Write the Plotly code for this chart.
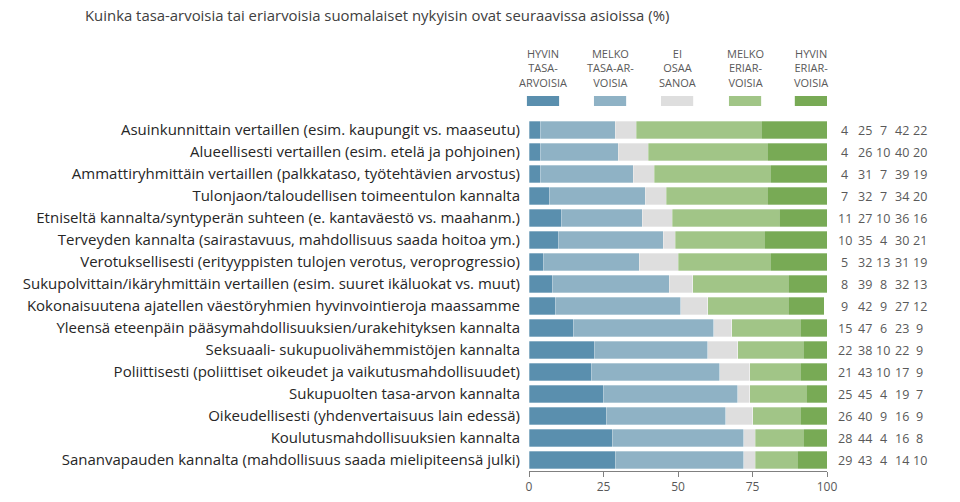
import plotly.graph_objects as go

# Kysymyksen alakohdat (ylhäältä alas).
KATEGORIAT = [
    "Asuinkunnittain vertaillen (esim. kaupungit vs. maaseutu)",
    "Alueellisesti vertaillen (esim. etelä ja pohjoinen)",
    "Ammattiryhmittäin vertaillen (palkkataso, työtehtävien arvostus)",
    "Tulonjaon/taloudellisen toimeentulon kannalta",
    "Etniseltä kannalta/syntyperän suhteen (e. kantaväestö vs. maahanm.)",
    "Terveyden kannalta (sairastavuus, mahdollisuus saada hoitoa ym.)",
    "Verotuksellisesti (erityyppisten tulojen verotus, veroprogressio)",
    "Sukupolvittain/ikäryhmittäin vertaillen (esim. suuret ikäluokat vs. muut)",
    "Kokonaisuutena ajatellen väestöryhmien hyvinvointieroja maassamme",
    "Yleensä eteenpäin pääsymahdollisuuksien/urakehityksen kannalta",
    "Seksuaali- sukupuolivähemmistöjen kannalta",
    "Poliittisesti (poliittiset oikeudet ja vaikutusmahdollisuudet)",
    "Sukupuolten tasa-arvon kannalta",
    "Oikeudellisesti (yhdenvertaisuus lain edessä)",
    "Koulutusmahdollisuuksien kannalta",
    "Sananvapauden kannalta (mahdollisuus saada mielipiteensä julki)",
]

HYVIN_TASA = [4, 4, 4, 7, 11, 10, 5, 8, 9, 15, 22, 21, 25, 26, 28, 29]
MELKO_TASA = [25, 26, 31, 32, 27, 35, 32, 39, 42, 47, 38, 43, 45, 40, 44, 43]
EOS = [7, 10, 7, 7, 10, 4, 13, 8, 9, 6, 10, 10, 4, 9, 4, 4]
MELKO_ERI = [42, 40, 39, 34, 36, 30, 31, 32, 27, 23, 22, 17, 19, 16, 16, 14]
HYVIN_ERI = [22, 20, 19, 20, 16, 21, 19, 13, 12, 9, 9, 9, 7, 9, 8, 10]

SARJAT = [
    ("HYVIN<br>TASA-<br>ARVOISIA", HYVIN_TASA, "#5a8fae"),
    ("MELKO<br>TASA-AR-<br>VOISIA", MELKO_TASA, "#8fb2c5"),
    ("EI<br>OSAA<br>SANOA", EOS, "#dedede"),
    ("MELKO<br>ERIAR-<br>VOISIA", MELKO_ERI, "#a1c587"),
    ("HYVIN<br>ERIAR-<br>VOISIA", HYVIN_ERI, "#78aa55"),
]

X_TICKS = [0, 25, 50, 75, 100]

# Sivun oletusreunus (body margin) siirtää kuvaa 8 px oikealle ja alas.
OFFSET = 8

fig = go.Figure()

for nimi, arvot, vari in SARJAT:
    fig.add_trace(
        go.Bar(
            y=KATEGORIAT,
            x=arvot,
            name=nimi,
            orientation="h",
            marker_color=vari,
            marker_line_color="rgba(255,255,255,0.6)",
            marker_line_width=0.5,
            hoverinfo="x+y",
        )
    )

fig.update_layout(
    barmode="stack",
    bargap=0.22,
    showlegend=False,
    width=960,
    height=502,
    margin=dict(l=529 - OFFSET, r=133 + OFFSET, t=119 - OFFSET, b=31 + OFFSET),
    paper_bgcolor="#FFFFFF",
    plot_bgcolor="#FFFFFF",
    font_family="Open Sans",
    font_color="#595959",
    title=dict(
        text="Kuinka tasa-arvoisia tai eriarvoisia suomalaiset nykyisin ovat seuraavissa asioissa (%)",
        x=(85 - OFFSET) / 960,
        xanchor="left",
        xref="container",
        y=1 - (16 - OFFSET) / 502,
        yanchor="middle",
        yref="container",
        font=dict(size=14.9, color="#404040"),
    ),
)

fig.update_xaxes(
    range=[0, 100],
    tickvals=X_TICKS,
    ticks="outside",
    ticklen=5,
    tickcolor="#808080",
    showline=True,
    linecolor="#808080",
    linewidth=1,
    showgrid=False,
    zeroline=False,
    tickfont=dict(size=12, color="#595959"),
    fixedrange=True,
)

fig.update_yaxes(
    autorange="reversed",
    showgrid=False,
    showline=False,
    ticks="",
    ticklabelstandoff=8,
    tickfont=dict(size=15, color="#262626"),
    fixedrange=True,
)

# Sarakkeiden keskikohdat oikean reunan lukutaulukolle (paper-koordinaatit).
luku_x = [1.060, 1.128, 1.188, 1.252, 1.312]
for i, kategoria in enumerate(KATEGORIAT):
    for j, (_, arvot, _) in enumerate(SARJAT):
        fig.add_annotation(
            x=luku_x[j],
            y=kategoria,
            xref="paper",
            yref="y",
            text=str(arvot[i]),
            showarrow=False,
            xanchor="center",
            yanchor="middle",
            font=dict(size=12.5, color="#595959"),
        )

# Selitteet sarakeotsikkoina palkkien yläpuolella.
selite_x = [0.047, 0.272, 0.497, 0.725, 0.946]
for j, (nimi, _, vari) in enumerate(SARJAT):
    fig.add_annotation(
        x=selite_x[j],
        y=1.076,
        xref="paper",
        yref="paper",
        text=nimi,
        showarrow=False,
        xanchor="center",
        yanchor="bottom",
        align="center",
        font=dict(size=11, color="#595959"),
    )
    fig.add_shape(
        type="rect",
        xref="paper",
        yref="paper",
        x0=selite_x[j] - 0.054,
        x1=selite_x[j] + 0.054,
        y0=1.037,
        y1=1.065,
        fillcolor=vari,
        line_width=0,
    )

fig.write_html("out.html")
